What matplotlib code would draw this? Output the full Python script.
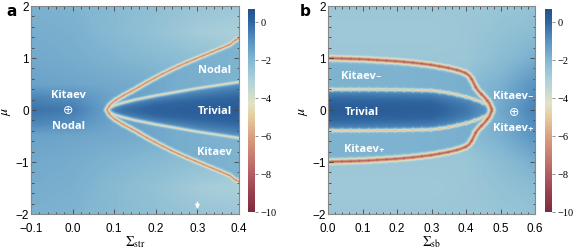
import numpy as np
import matplotlib.pyplot as plt
from matplotlib.colors import LinearSegmentedColormap

plt.rcParams['mathtext.fontset'] = 'stix'

# colour scale (log10 of the gap)
cbar_vals = [-10, -9, -8, -7, -6, -5, -4.3, -3, -2, -1, 0, 0.68]
cbar_cols = ['#7d2a3e', '#99404f', '#b35d62', '#c77f70', '#d8a17f', '#e6cb9f',
             '#e3e2c6', '#acd0da', '#84b8d2', '#5a94c2', '#2f659f', '#24518c']
vmin, vmax = -10, 0.68

# ---- panel a: phase boundaries (upper branch, mirrored in mu)
a_xlim = (-0.1, 0.4)
a_outer_x = [0.082, 0.09, 0.10, 0.12, 0.15, 0.18, 0.21, 0.24, 0.27, 0.30, 0.33, 0.36, 0.38, 0.39, 0.40]
a_outer_mu = [0.0, 0.10, 0.17, 0.27, 0.40, 0.54, 0.67, 0.79, 0.90, 1.00, 1.10, 1.20, 1.27, 1.34, 1.38]
a_inner_x = [0.082, 0.09, 0.10, 0.12, 0.15, 0.20, 0.25, 0.30, 0.35, 0.40]
a_inner_mu = [0.0, 0.05, 0.09, 0.14, 0.20, 0.28, 0.35, 0.42, 0.48, 0.54]
a_outer_core, a_inner_core = -7.2, -5.2
a_triv_x = [0.082, 0.12, 0.2, 0.4]
a_triv_center = [-1.0, -0.3, 0.1, 0.25]
a_triv_edge = -1.2
a_nodal_x = [0.08, 0.15, 0.25, 0.40]
a_nodal_v = [-1.2, -1.4, -1.7, -1.9]
# background read on a coarse grid (rows: mu, cols: x)
a_bg_x = [-0.1, 0.0, 0.1, 0.2, 0.3, 0.4]
a_bg_mu = [0.0, 0.25, 0.5, 1.0, 1.5, 2.0]
a_bg = [[-0.3, -0.5, -1.5, -1.6, -1.8, -2.0],
        [-0.7, -0.9, -1.5, -1.6, -1.8, -2.0],
        [-1.4, -1.5, -1.6, -1.7, -1.9, -2.0],
        [-1.6, -1.7, -1.9, -2.1, -2.3, -2.5],
        [-1.7, -1.8, -2.1, -2.4, -2.8, -3.0],
        [-1.8, -1.9, -2.1, -2.3, -2.5, -2.6]]

# ---- panel b
b_xlim = (0.0, 0.6)
b_outer_x = [0.0, 0.05, 0.10, 0.15, 0.20, 0.25, 0.30, 0.35, 0.38, 0.40, 0.41, 0.418, 0.424, 0.43, 0.44, 0.455, 0.468, 0.476]
b_outer_mu = [1.0, 0.99, 0.98, 0.96, 0.94, 0.91, 0.87, 0.81, 0.76, 0.71, 0.66, 0.58, 0.50, 0.42, 0.34, 0.24, 0.13, 0.0]
b_inner_x = [0.0, 0.10, 0.20, 0.30, 0.345, 0.38, 0.41, 0.44, 0.46, 0.476]
b_inner_mu = [0.40, 0.40, 0.395, 0.38, 0.34, 0.29, 0.24, 0.17, 0.11, 0.0]
b_outer_core, b_inner_core = -8.5, -5.6
b_triv_x = [0.0, 0.3, 0.4, 0.476]
b_triv_center = [0.25, 0.15, -0.4, -1.2]
b_triv_edge = -1.1
b_kit_x = [0.0, 0.2, 0.35, 0.47]
b_kit_v = [-1.9, -1.9, -1.8, -1.7]
b_bg_x = [0.0, 0.1, 0.2, 0.3, 0.4, 0.45, 0.5, 0.55, 0.6]
b_bg_mu = [0.0, 0.5, 1.0, 1.5, 2.0]
b_bg = [[-2.6, -2.6, -2.6, -2.5, -2.2, -1.9, -1.6, -1.1, -0.6],
        [-2.6, -2.6, -2.6, -2.5, -2.3, -2.0, -1.8, -1.4, -1.0],
        [-2.6, -2.6, -2.6, -2.6, -2.6, -2.4, -2.2, -2.0, -1.7],
        [-2.7, -2.7, -2.7, -2.7, -2.6, -2.5, -2.4, -2.3, -2.2],
        [-2.6, -2.6, -2.6, -2.6, -2.6, -2.6, -2.5, -2.5, -2.4]]

PX = 208  # axes size in output pixels
N = 420


def table(xs, mus, vals, X, M):
    # bilinear lookup in the coarse table (mirrored in mu)
    vals = np.array(vals)
    A = np.abs(M)
    rows = np.array([np.interp(X[0], xs, r) for r in vals])  # (nmu, nx)
    out = np.empty_like(X)
    for j in range(X.shape[1]):
        out[:, j] = np.interp(A[:, j], mus, rows[:, j])
    return out


def dense(px, py):
    # points every quarter pixel along one branch
    xs, ys = [], []
    for i in range(len(px) - 1):
        seg = np.hypot(px[i + 1] - px[i], py[i + 1] - py[i])
        n = max(2, int(seg * 4))
        xs.append(np.linspace(px[i], px[i + 1], n, endpoint=False))
        ys.append(np.linspace(py[i], py[i + 1], n, endpoint=False))
    xs = np.concatenate(xs + [[px[-1]]])
    ys = np.concatenate(ys + [[py[-1]]])
    arc = np.concatenate([[0], np.cumsum(np.hypot(np.diff(xs), np.diff(ys)))])
    return xs, ys, arc


def line_dist(cx, cmu, X, M, xlim):
    # distance (output pixels) to the curve and its mirror image, plus arc position
    sx = PX / (xlim[1] - xlim[0])
    sy = PX / 4.0
    ux, uy, ua = dense(np.array(cx) * sx, np.array(cmu) * sy)
    pts_x = np.concatenate([ux, ux])
    pts_y = np.concatenate([uy, -uy])
    arc = np.concatenate([ua, ua])
    D = np.empty_like(X)
    S = np.empty_like(X)
    for r in range(X.shape[0]):
        dx = X[r][:, None] * sx - pts_x[None, :]
        dy = M[r][:, None] * sy - pts_y[None, :]
        dd = dx ** 2 + dy ** 2
        k = dd.argmin(axis=1)
        D[r] = np.sqrt(dd[np.arange(len(k)), k])
        S[r] = arc[k]
    return D, S


def line_level(core, D, S, dots):
    # sharp dip along the curve with a soft halo, plus a few darker dots
    spot = dots * np.exp(-((S % 9.0) - 4.5) ** 2 / 0.6)
    return core - spot + 2.2 * D ** 0.75


def field(xlim, bg_x, bg_mu, bg, ox, omu, ix, imu, mid_x, mid_v,
          tx, t_c, t_e, o_core, i_core, o_dots, i_dots):
    x = np.linspace(xlim[0], xlim[1], N)
    mu = np.linspace(-2, 2, N)
    X, M = np.meshgrid(x, mu)
    V = table(bg_x, bg_mu, bg, X, M)
    A = np.abs(M)
    mu_out = np.interp(X, ox, omu, left=-1, right=-1)
    mu_in = np.interp(X, ix, imu, left=-1, right=-1)
    mid = (A < mu_out) & (A >= mu_in)
    V = np.where(mid, np.interp(X, mid_x, mid_v), V)
    triv = A < mu_in
    r = np.clip(A / np.maximum(mu_in, 1e-6), 0, 1)
    tc = np.interp(X, tx, t_c)
    V = np.where(triv, t_e + (tc - t_e) * (1 - r ** 2), V)
    d_o, s_o = line_dist(ox, omu, X, M, xlim)
    d_i, s_i = line_dist(ix, imu, X, M, xlim)
    lo = line_level(o_core, d_o, s_o, o_dots)
    li = line_level(i_core, d_i, s_i, i_dots)
    V = -np.log10(10.0 ** (-V) + 10.0 ** (-lo) + 10.0 ** (-li))
    return V


cmap = LinearSegmentedColormap.from_list(
    'gap', [((v - vmin) / (vmax - vmin), c) for v, c in zip(cbar_vals, cbar_cols)])

Va = field(a_xlim, a_bg_x, a_bg_mu, a_bg, a_outer_x, a_outer_mu, a_inner_x, a_inner_mu,
           a_nodal_x, a_nodal_v, a_triv_x, a_triv_center, a_triv_edge,
           a_outer_core, a_inner_core, 0.4, 0.0)
Vb = field(b_xlim, b_bg_x, b_bg_mu, b_bg, b_outer_x, b_outer_mu, b_inner_x, b_inner_mu,
           b_kit_x, b_kit_v, b_triv_x, b_triv_center, b_triv_edge,
           b_outer_core, b_inner_core, 0.6, 0.9)

W, H = 581, 253
fig = plt.figure(figsize=(W / 100, H / 100), dpi=100)

ax_a = fig.add_axes([31 / W, 1 - 215 / H, 208 / W, 208 / H])
ax_b = fig.add_axes([328 / W, 1 - 215 / H, 207 / W, 208 / H])
cax_a = fig.add_axes([248 / W, 1 - 213 / H, 7 / W, 203 / H])
cax_b = fig.add_axes([545 / W, 1 - 213 / H, 7 / W, 203 / H])

txt = dict(color='white', fontsize=8, fontweight='bold', ha='center', va='center',
           family=['Open Sans', 'DejaVu Sans'])

for ax, V, xlim, cax, xl in [(ax_a, Va, a_xlim, cax_a, r'$\Sigma_{\rm str}$'),
                             (ax_b, Vb, b_xlim, cax_b, r'$\Sigma_{\rm sb}$')]:
    im = ax.imshow(V, origin='lower', extent=[xlim[0], xlim[1], -2, 2], aspect='auto',
                   cmap=cmap, vmin=vmin, vmax=vmax, interpolation='antialiased')
    ax.set_xlim(*xlim)
    ax.set_ylim(-2, 2)
    ax.set_xticks(np.arange(xlim[0], xlim[1] + 1e-9, 0.1))
    ax.set_xticks(np.arange(xlim[0], xlim[1] + 1e-9, 0.02), minor=True)
    ax.set_yticks([-2, -1, 0, 1, 2])
    ax.set_yticks(np.arange(-2, 2.01, 0.2), minor=True)
    ax.xaxis.set_major_formatter(plt.FuncFormatter(lambda v, p: f'{v:.1f}'.replace('-', '\u2212')))
    ax.yaxis.set_major_formatter(plt.FuncFormatter(lambda v, p: f'{v:.0f}'.replace('-', '\u2212')))
    ax.tick_params(which='both', direction='in', top=True, right=True, labelsize=8.5,
                   color='#444444', width=0.6)
    ax.tick_params(axis='x', pad=5.5)
    ax.tick_params(axis='y', pad=1.5)
    ax.tick_params(which='major', length=3.5)
    ax.tick_params(which='minor', length=1.8)
    for lab in ax.get_xticklabels() + ax.get_yticklabels():
        lab.set_family('Liberation Sans')
    for s in ax.spines.values():
        s.set_color('#888888')
        s.set_linewidth(0.8)
    ax.set_xlabel(xl, fontsize=10, labelpad=0)
    ax.set_ylabel(r'$\mu$', fontsize=10, labelpad=2)

    cb = fig.colorbar(im, cax=cax)
    cb.outline.set_visible(False)
    cb.set_ticks([0, -2, -4, -6, -8, -10])
    cb.set_ticklabels(['0', '\u22122', '\u22124', '\u22126', '\u22128', '\u221210'])
    cax.tick_params(labelsize=7.5, length=2, width=0.5, color='#666666', pad=2)
    for lab in cax.get_yticklabels():
        lab.set_family('Liberation Serif')

# panel a annotations
ax_a.text(-0.011, 0.29, 'Kitaev', **txt)
ax_a.text(-0.011, 0.0, '\u2295', color='white', fontsize=9, ha='center', va='center',
          family='DejaVu Sans')
ax_a.text(-0.011, -0.30, 'Nodal', **txt)
ax_a.text(0.342, 0.77, 'Nodal', **txt)
ax_a.text(0.342, -0.01, 'Trivial', **txt)
ax_a.text(0.342, -0.79, 'Kitaev', **txt)
ax_a.annotate('', xy=(0.30, -1.96), xytext=(0.30, -1.72),
              arrowprops=dict(arrowstyle='-|>', color='white', lw=1.0,
                              mutation_scale=6))

# panel b annotations
ax_b.text(0.098, 0.66, 'Kitaev\u208b', **txt)
ax_b.text(0.098, -0.03, 'Trivial', **txt)
ax_b.text(0.105, -0.74, 'Kitaev\u208a', **txt)
ax_b.text(0.537, 0.28, 'Kitaev\u208b', **txt)
ax_b.text(0.539, -0.03, '\u2295', color='white', fontsize=9, ha='center', va='center',
          family='DejaVu Sans')
ax_b.text(0.537, -0.33, 'Kitaev\u208a', **txt)

fig.text(6 / W, 1 - 11 / H, 'a', fontsize=11, fontweight='bold', va='center')
fig.text(300 / W, 1 - 11 / H, 'b', fontsize=11, fontweight='bold', va='center')

fig.savefig('out.png', dpi=100)
